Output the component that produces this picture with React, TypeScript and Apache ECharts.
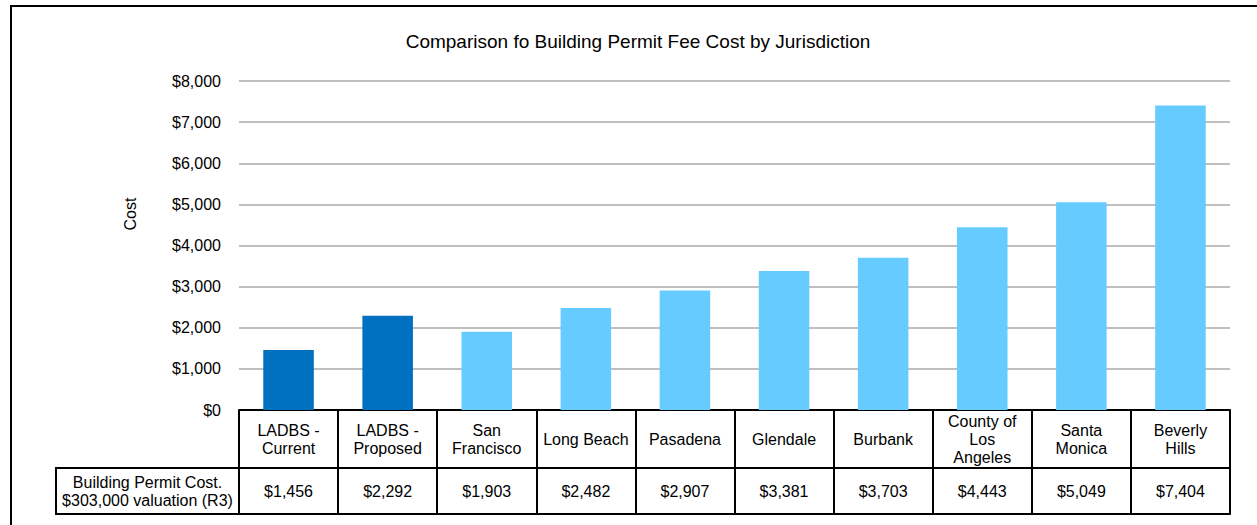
import React, { useEffect, useRef } from "react";
import * as echarts from "echarts";

const categories = [
  "LADBS -\nCurrent",
  "LADBS -\nProposed",
  "San\nFrancisco",
  "Long Beach",
  "Pasadena",
  "Glendale",
  "Burbank",
  "County of\nLos\nAngeles",
  "Santa\nMonica",
  "Beverly\nHills",
];
const costs = [1456, 2292, 1903, 2482, 2907, 3381, 3703, 4443, 5049, 7404];
const highlighted = [true, true, false, false, false, false, false, false, false, false];
const rowLabel = "Building Permit Cost.\n$303,000 valuation (R3)";
const titleText = "Comparison fo Building Permit Fee Cost by Jurisdiction";
const yName = "Cost";

const FONT = "'Liberation Sans', Arial, Helvetica, sans-serif";
const money = (v: number) => "$" + v.toLocaleString("en-US");

export default function App() {
  const ref = useRef<HTMLDivElement>(null);
  useEffect(() => {
    const chart = echarts.init(ref.current!, null, { renderer: "svg" });
    const gridLeft = 239;
    const gridRight = 1230;
    const gridTop = 81;
    const gridBottom = 410;
    const row1 = 58;
    const row2 = 46;
    const lineBlack = { color: "#000", width: 2 };
    chart.setOption({
      animation: false,
      textStyle: { fontFamily: FONT },
      title: {
        text: titleText,
        left: 633,
        top: 27,
        textAlign: "center",
        textStyle: { fontFamily: FONT, fontSize: 19, fontWeight: "normal", color: "#000" },
      },
      grid: {
        left: gridLeft,
        right: 1257 - gridRight,
        top: gridTop,
        bottom: 525 - gridBottom,
        containLabel: false,
      },
      xAxis: [
        {
          type: "category",
          data: categories,
          position: "bottom",
          axisLine: { show: true, lineStyle: lineBlack },
          axisTick: { show: true, interval: 0, length: row1, lineStyle: lineBlack },
          axisLabel: {
            interval: 0,
            margin: row1 / 2,
            verticalAlign: "middle",
            color: "#000",
            fontSize: 16,
            lineHeight: 18,
            fontFamily: FONT,
          },
        },
        {
          type: "category",
          data: costs.map(money),
          position: "bottom",
          offset: row1,
          axisLine: { show: true, lineStyle: lineBlack },
          axisTick: { show: true, interval: 0, length: row2, lineStyle: lineBlack },
          axisLabel: {
            interval: 0,
            margin: row2 / 2,
            verticalAlign: "middle",
            color: "#000",
            fontSize: 16,
            fontFamily: FONT,
          },
        },
        {
          type: "category",
          data: categories,
          position: "bottom",
          offset: row1 + row2,
          axisLine: { show: true, lineStyle: lineBlack },
          axisTick: { show: false },
          axisLabel: { show: false },
        },
      ],
      yAxis: {
        type: "value",
        min: 0,
        max: 8000,
        interval: 1000,
        axisLine: { show: false },
        axisTick: { show: false },
        axisLabel: {
          formatter: (v: number) => money(v),
          color: "#000",
          fontSize: 16,
          margin: 18,
          fontFamily: FONT,
        },
        splitLine: { lineStyle: { color: "#BFBFBF", width: 2 } },
      },
      series: [
        {
          type: "bar",
          xAxisIndex: 0,
          data: costs,
          barWidth: "51%",
          itemStyle: {
            color: (p: any) => (highlighted[p.dataIndex] ? "#0070C0" : "#66CCFF"),
          },
        },
      ],
      graphic: [
        {
          type: "rect",
          shape: { x: 11, y: 6, width: 1400, height: 700 },
          style: { fill: "none", stroke: "#000", lineWidth: 2 },
          silent: true,
        },
        {
          type: "rect",
          shape: { x: 56, y: gridBottom + row1, width: gridLeft - 56, height: row2 },
          style: { fill: "none", stroke: "#000", lineWidth: 2 },
          silent: true,
        },
        {
          type: "text",
          x: (56 + gridLeft) / 2,
          y: gridBottom + row1 + row2 / 2,
          style: {
            text: rowLabel,
            align: "center",
            verticalAlign: "middle",
            fontSize: 16,
            lineHeight: 18,
            fontFamily: FONT,
            fill: "#000",
          },
        },
        {
          type: "text",
          x: 130,
          y: 214,
          rotation: Math.PI / 2,
          style: {
            text: yName,
            align: "center",
            verticalAlign: "middle",
            fontSize: 16,
            fontFamily: FONT,
            fill: "#000",
          },
        },
      ],
    });
    return () => chart.dispose();
  }, []);
  return (
    <div
      ref={ref}
      style={{ position: "absolute", left: 0, top: 0, width: 1257, height: 525, background: "#fff" }}
    />
  );
}
